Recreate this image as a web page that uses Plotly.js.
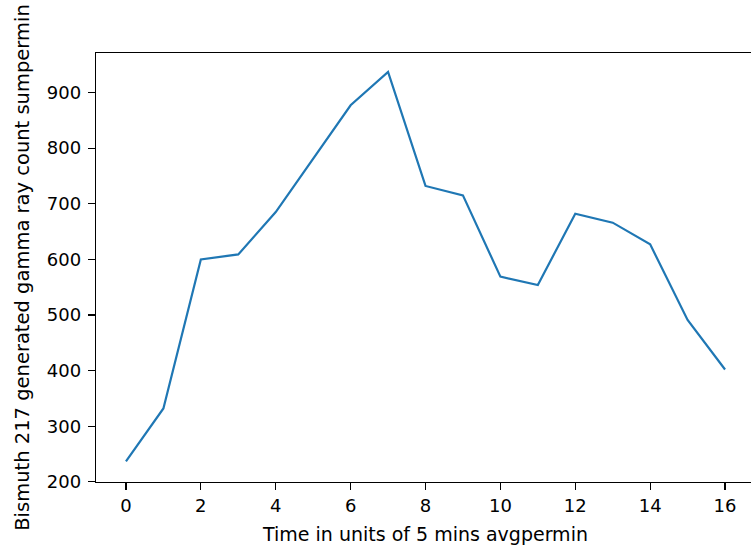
<!DOCTYPE html>
<html>
<head>
<meta charset="utf-8">
<script src="https://cdn.plot.ly/plotly-3.0.1.min.js"></script>
<style>
html, body { margin: 0; padding: 0; overflow: hidden; background: #fff; }
#chart { width: 755px; height: 549px; }
</style>
</head>
<body>
<div id="chart"></div>
<script>
const timeSteps = [0, 1, 2, 3, 4, 5, 6, 7, 8, 9, 10, 11, 12, 13, 14, 15, 16];
const gammaCounts = [237, 332, 600, 609, 685, 781, 877, 937, 732, 715, 569, 554, 682, 666, 627, 491, 402];
const xTickVals = [0, 2, 4, 6, 8, 10, 12, 14, 16];
const yTickVals = [200, 300, 400, 500, 600, 700, 800, 900];
const xLabel = "Time in units of 5 mins avgpermin";
const yLabel = "Bismuth 217 generated gamma ray count sumpermin";

const trace = {
  x: timeSteps,
  y: gammaCounts,
  type: "scatter",
  mode: "lines",
  line: { color: "#1f77b4", width: 2.2 },
  hoverinfo: "x+y"
};

const axisCommon = {
  showline: true,
  linecolor: "#000",
  linewidth: 1.3,
  mirror: true,
  showgrid: false,
  zeroline: false,
  ticks: "outside",
  ticklen: 7,
  tickwidth: 1.2,
  tickcolor: "#000",
  tickfont: { family: "DejaVu Sans", size: 18, color: "#000" }
};

const layout = {
  width: 755,
  height: 549,
  margin: { l: 96, r: 0, t: 53, b: 67 },
  paper_bgcolor: "#fff",
  plot_bgcolor: "#fff",
  showlegend: false,
  font: { family: "DejaVu Sans", color: "#000" },
  xaxis: Object.assign({}, axisCommon, {
    range: [-0.8, 16.8],
    tickmode: "array",
    tickvals: xTickVals,
    ticktext: xTickVals.map(String),
    title: { text: xLabel, font: { family: "DejaVu Sans", size: 19, color: "#000" }, standoff: 12 }
  }),
  yaxis: Object.assign({}, axisCommon, {
    range: [199.8, 971],
    tickmode: "array",
    tickvals: yTickVals,
    ticktext: yTickVals.map(String),
    ticklabelstandoff: 3,
    title: { text: yLabel, font: { family: "DejaVu Sans", size: 19.5, color: "#000" }, standoff: 12 }
  })
};

Plotly.newPlot("chart", [trace], layout, { displayModeBar: false, staticPlot: true });
</script>
</body>
</html>
